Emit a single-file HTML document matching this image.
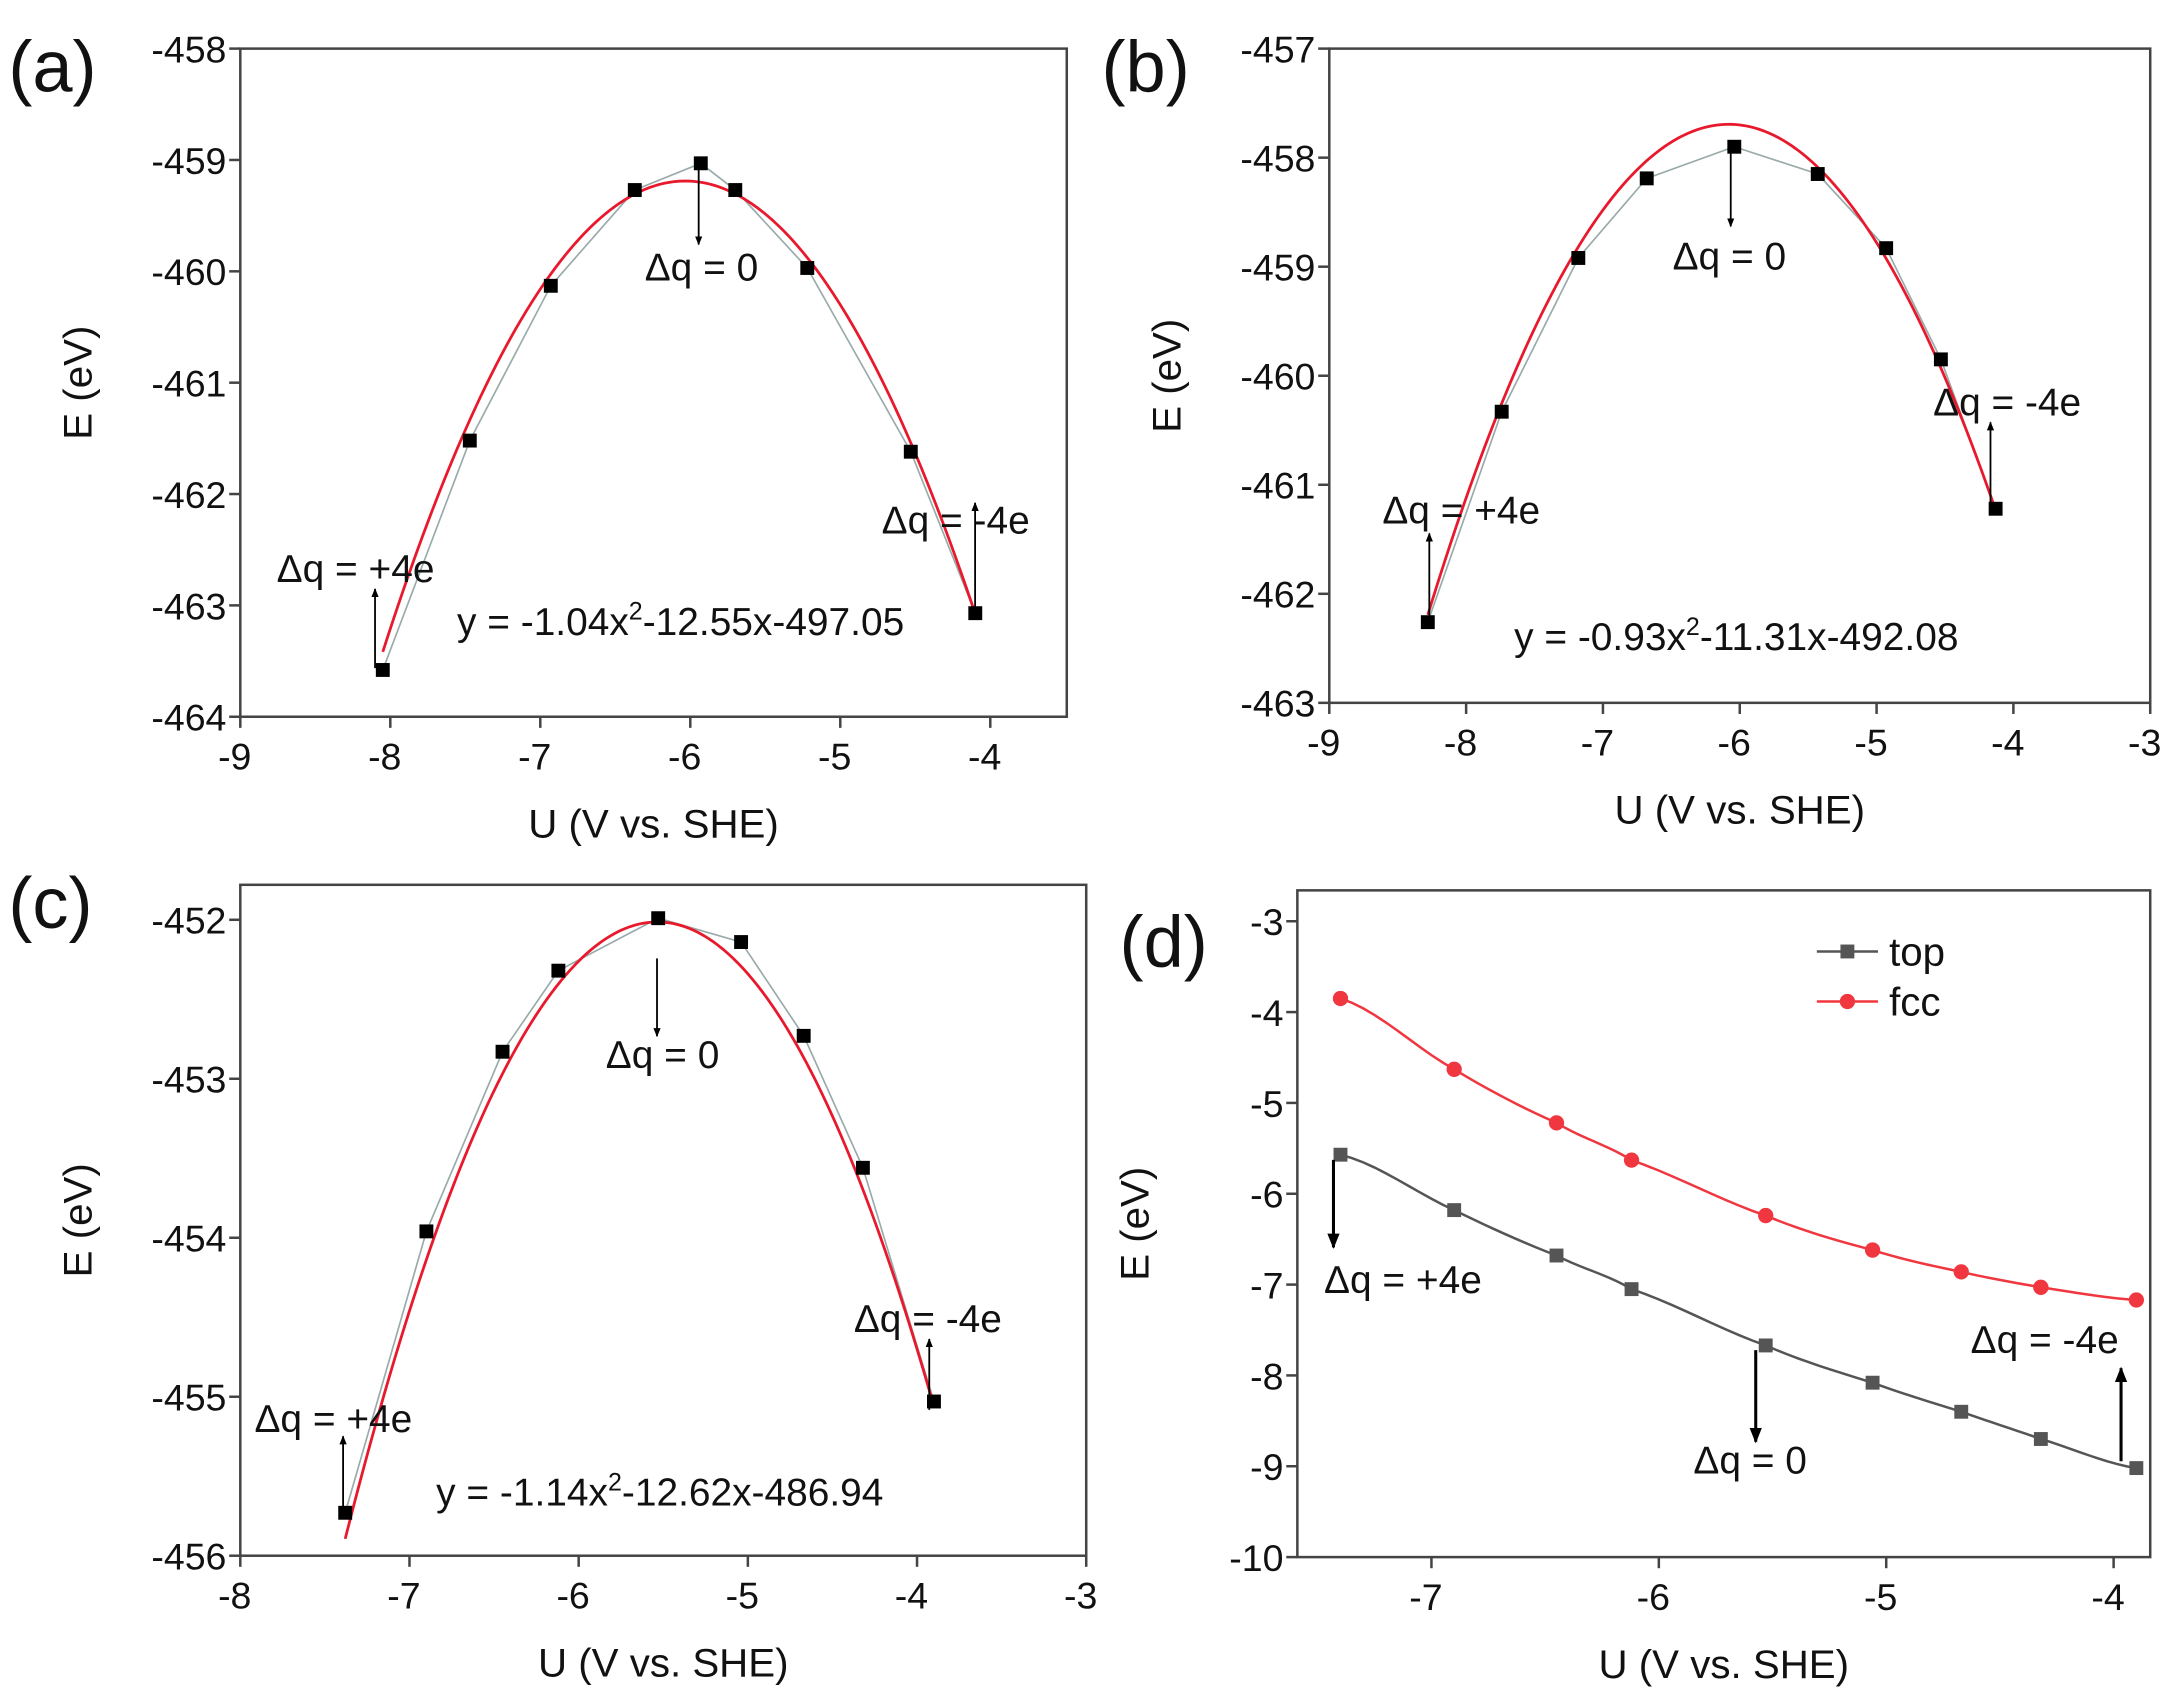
<!DOCTYPE html>
<html><head><meta charset="utf-8"><style>
html,body{margin:0;padding:0;background:#fff;}
svg{display:block;font-family:"Liberation Sans",sans-serif;}
</style></head><body>
<svg id="fig" width="2178" height="1701" viewBox="0 0 1568 1224.6" preserveAspectRatio="none" xmlns="http://www.w3.org/2000/svg">
<defs>
<marker id="ah" viewBox="0 0 10 10" refX="9" refY="5" markerWidth="5" markerHeight="7" orient="auto"><path d="M0,1 L10,5 L0,9 z" fill="#000"/></marker>
</defs>
</svg>
<script>
// Panel (a)
const aU = [-8.05,-7.47,-6.93,-6.37,-5.93,-5.70,-5.22,-4.53,-4.10];
const aE = [-463.58,-461.52,-460.13,-459.27,-459.03,-459.27,-459.97,-461.62,-463.07];
const aFit = [-1.04,-12.55,-497.05];
const aXTicks = [-9,-8,-7,-6,-5,-4];
const aYTicks = [-458,-459,-460,-461,-462,-463,-464];
// Panel (b)
const bU = [-8.28,-7.74,-7.18,-6.68,-6.04,-5.43,-4.93,-4.53,-4.13];
const bE = [-462.26,-460.33,-458.92,-458.19,-457.90,-458.15,-458.83,-459.85,-461.22];
const bFit = [-0.93,-11.31,-492.08];
const bXTicks = [-9,-8,-7,-6,-5,-4,-3];
const bYTicks = [-457,-458,-459,-460,-461,-462,-463];
// Panel (c)
const cU = [-7.38,-6.90,-6.45,-6.12,-5.53,-5.04,-4.67,-4.32,-3.90];
const cE = [-455.73,-453.96,-452.83,-452.32,-451.99,-452.14,-452.73,-453.56,-455.03];
const cFit = [-1.14,-12.62,-486.94];
const cXTicks = [-8,-7,-6,-5,-4,-3];
const cYTicks = [-452,-453,-454,-455,-456];
// Panel (d)
const dU = [-7.40,-6.90,-6.45,-6.12,-5.53,-5.06,-4.67,-4.32,-3.90];
const dTop = [-5.57,-6.18,-6.68,-7.05,-7.67,-8.08,-8.40,-8.70,-9.02];
const dFcc = [-3.85,-4.63,-5.22,-5.63,-6.24,-6.62,-6.86,-7.03,-7.17];
const dXTicks = [-7,-6,-5,-4];
const dYTicks = [-3,-4,-5,-6,-7,-8,-9,-10];

const NS="http://www.w3.org/2000/svg";
const svg=document.getElementById('fig');
function mk(tag,attrs,parent){const e=document.createElementNS(NS,tag);for(const k in attrs)e.setAttribute(k,attrs[k]);(parent||svg).appendChild(e);return e;}
function txt(s,x,y,size,anchor,parent,name){const t=mk('text',{x:x,y:y,'font-size':size,'text-anchor':anchor||'middle',fill:'#111'},parent);t.textContent=s;


return t;}

function panel(o){
  const g=mk('g',{});
  
  
  const X=v=>o.L+(v-o.x0)/(o.x1-o.x0)*(o.R-o.L);
  const Y=v=>o.B-(v-o.y0)/(o.y1-o.y0)*(o.B-o.T);
  const fr=mk('rect',{x:o.L,y:o.T,width:o.R-o.L,height:o.B-o.T,fill:'none',stroke:'#444','stroke-width':1.8},g);
  
  
  o.xt.forEach(v=>{const x=X(v);
    const l=mk('line',{x1:x,y1:o.B,x2:x,y2:o.B+8,stroke:'#444','stroke-width':1.8},g);
    
    
    txt(String(v),x-4,o.B+38,27,'middle',g,'x-tick-label');});
  o.yt.forEach(v=>{const y=Y(v);
    const l=mk('line',{x1:o.L,y1:y,x2:o.L-8,y2:y,stroke:'#444','stroke-width':1.8},g);
    
    
    txt(String(v),o.L-10,y+10,27,'end',g,'y-tick-label');});
  txt('U (V vs. SHE)',(o.L+o.R)/2,o.B+87,29,'middle',g,'x-axis-title');
  const yt=txt('E (eV)',0,0,29,'middle',g,'y-axis-title');
  yt.setAttribute('transform','translate('+(o.L-107)+','+((o.T+o.B)/2)+') rotate(-90)');
  txt('('+o.id+')',o.lx,o.ly,52,'start',g,'panel-label');
  return {g,X,Y};
}
function arrow(g,x,y1,y2,w){const a=mk('line',{x1:x,y1:y1,x2:x,y2:y2,stroke:'#000','stroke-width':w||1.3,'marker-end':'url(#ah)'},g);

}
function fitPanel(o,U,E,F,ann,eq){
  const p=panel(o);
  let pts=U.map((u,i)=>p.X(u)+','+p.Y(E[i])).join(' ');
  const gl=mk('polyline',{points:pts,fill:'none',stroke:'#9aa','stroke-width':1.2},p.g);
  
  
  let c=[];const a=U[0],b=U[U.length-1];
  for(let i=0;i<=120;i++){const u=a+(b-a)*i/120;c.push(p.X(u)+','+p.Y(F[0]*u*u+F[1]*u+F[2]));}
  const fl=mk('polyline',{points:c.join(' '),fill:'none',stroke:'#e8192c','stroke-width':2},p.g);
  
  
  U.forEach((u,i)=>{const r=mk('rect',{x:p.X(u)-5,y:p.Y(E[i])-5,width:10,height:10,fill:'#000'},p.g);
    
    });
  ann.forEach(t=>{txt(t[0],t[1],t[2],28,'middle',p.g,'charge-annotation');arrow(p.g,t[3],t[4],t[5]);});
  const e=txt('',eq[0],eq[1],28,'middle',p.g,'fit-equation');
  e.innerHTML='y = '+(F[0]).toFixed(2)+'x<tspan dy="-11" font-size="18">2</tspan><tspan dy="11">'+F[1].toFixed(2)+'x'+F[2].toFixed(2)+'</tspan>';
}
fitPanel({id:'a',L:173,R:768,T:35,B:516,x0:-9,x1:-3.49,y0:-464,y1:-458,xt:aXTicks,yt:aYTicks,lx:6,ly:66},
 aU,aE,aFit,[['Δq = 0',505,202,503,118,176],['Δq = -4e',688,384,702,437,362],['Δq = +4e',256,419,270,481,424]],[490,457]);
fitPanel({id:'b',L:957,R:1548,T:35,B:506,x0:-9,x1:-3,y0:-463,y1:-457,xt:bXTicks,yt:bYTicks,lx:793,ly:66},
 bU,bE,bFit,[['Δq = 0',1245,194,1246,108,163],['Δq = -4e',1445,299,1433,365,304],['Δq = +4e',1052,377,1029,443,384]],[1250,468]);
fitPanel({id:'c',L:173,R:782,T:637,B:1120,x0:-8,x1:-3,y0:-456,y1:-451.78,xt:cXTicks,yt:cYTicks,lx:6,ly:668},
 cU,cE,cFit,[['Δq = 0',477,769,473,690,746],['Δq = -4e',668,959,669,1015,964],['Δq = +4e',240,1031,247,1088,1034]],[475,1084]);

// panel d
(function(){
  const o={id:'d',L:934,R:1548,T:641,B:1121,x0:-7.5897,x1:-3.839,y0:-10,y1:-2.66,xt:dXTicks,yt:dYTicks,lx:806,ly:696};
  const p=panel(o);
  function series(vals,color,name,marker){
    let c=[];
    for(let i=0;i<vals.length-1;i++){const x0=dU[i],x1=dU[i+1];
      for(let k=0;k<=10;k++){const t=k/10;
        const p0=vals[Math.max(i-1,0)],p1=vals[i],p2=vals[i+1],p3=vals[Math.min(i+2,vals.length-1)];
        const v=0.5*((2*p1)+(-p0+p2)*t+(2*p0-5*p1+4*p2-p3)*t*t+(-p0+3*p1-3*p2+p3)*t*t*t);
        c.push(p.X(x0+(x1-x0)*t)+','+p.Y(v));}}
    const l=mk('polyline',{points:c.join(' '),fill:'none',stroke:color,'stroke-width':1.8},p.g);
    
    
    dU.forEach((u,i)=>{let m;
      if(marker==='sq')m=mk('rect',{x:p.X(u)-5,y:p.Y(vals[i])-5,width:10,height:10,fill:color},p.g);
      else m=mk('circle',{cx:p.X(u),cy:p.Y(vals[i]),r:5.5,fill:color},p.g);
      
      });
  }
  series(dTop,'#555','top','sq');
  series(dFcc,'#f0363f','fcc','ci');
  const lg=mk('g',{},p.g);
  
  
  mk('line',{x1:1308,y1:685,x2:1352,y2:685,stroke:'#555','stroke-width':1.8},lg);
  mk('rect',{x:1325,y:680,width:10,height:10,fill:'#555'},lg);
  txt('top',1360,695,29,'start',lg,'legend-entry-top');
  mk('line',{x1:1308,y1:721,x2:1352,y2:721,stroke:'#f0363f','stroke-width':1.8},lg);
  mk('circle',{cx:1330,cy:721,r:5.5,fill:'#f0363f'},lg);
  txt('fcc',1360,731,29,'start',lg,'legend-entry-fcc');
  txt('Δq = +4e',1010,931,28,'middle',p.g,'charge-annotation');arrow(p.g,960,835,898,2.2);
  txt('Δq = 0',1260,1061,28,'middle',p.g,'charge-annotation');arrow(p.g,1264,972,1038,2.2);
  txt('Δq = -4e',1472,974,28,'middle',p.g,'charge-annotation');arrow(p.g,1527,1052,985,2.2);
})();
</script>
</body></html>
